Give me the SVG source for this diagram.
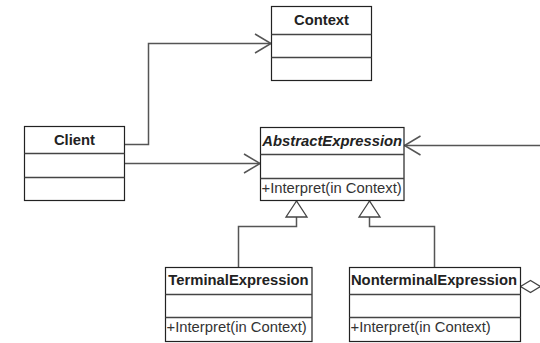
<svg xmlns="http://www.w3.org/2000/svg" width="540" height="343" viewBox="0 0 540 343">
  <style>
    .box { fill: #ffffff; stroke: #222222; stroke-width: 1.2; }
    .sep { stroke: #444444; stroke-width: 1.6; }
    .name { font-family: "Liberation Sans", Arial, sans-serif; font-size: 14.8px; font-weight: bold; fill: #222222; text-anchor: middle; }
    .abstract { font-style: italic; }
    .op { font-family: "Liberation Sans", Arial, sans-serif; font-size: 14.8px; fill: #333333; }
    .link { fill: none; stroke: #555555; stroke-width: 1.5; }
  </style>
  <defs>
    <marker id="open-arrow" markerUnits="userSpaceOnUse" markerWidth="20" markerHeight="24" viewBox="-18 -12 20 24" refX="0" refY="0" orient="auto" overflow="visible">
      <path d="M-16,-9.5 L0,0 L-16,9.5" fill="none" stroke="#555555" stroke-width="1.5"/>
    </marker>
    <marker id="inherit" markerUnits="userSpaceOnUse" markerWidth="20" markerHeight="24" viewBox="-18 -12 20 24" refX="0" refY="0" orient="auto" overflow="visible">
      <path d="M0,0 L-16,-10.5 L-16,10.5 Z" fill="#ffffff" stroke="#444444" stroke-width="1.3"/>
    </marker>
    <marker id="aggregate" markerUnits="userSpaceOnUse" markerWidth="24" markerHeight="16" viewBox="-2 -8 24 16" refX="0" refY="0" orient="auto" overflow="visible">
      <path d="M0,0 L10,-6 L20,0 L10,6 Z" fill="#ffffff" stroke="#444444" stroke-width="1.3"/>
    </marker>
  </defs>

  <g id="connectors">
    <path class="link" d="M124.5,144.5 H148.5 V43.5 H271" marker-end="url(#open-arrow)"/>
    <path class="link" d="M124.5,163.5 H260" marker-end="url(#open-arrow)"/>
    <path class="link" d="M545,145.5 H404.5" marker-end="url(#open-arrow)"/>
    <path class="link" d="M238.5,268 V226.5 H296.5 V201" marker-end="url(#inherit)"/>
    <path class="link" d="M434.5,268 V226.5 H369.5 V201" marker-end="url(#inherit)"/>
    <path class="link" d="M520.5,286.5 H560" marker-start="url(#aggregate)"/>
  </g>

  <g id="context">
    <rect class="box" x="271.5" y="6.5" width="100" height="74"/>
    <line class="sep" x1="271.5" y1="34.5" x2="371.5" y2="34.5"/>
    <line class="sep" x1="271.5" y1="57.5" x2="371.5" y2="57.5"/>
    <text class="name" x="321.5" y="25">Context</text>
  </g>

  <g id="client">
    <rect class="box" x="24.5" y="126.5" width="100" height="74"/>
    <line class="sep" x1="24.5" y1="153.5" x2="124.5" y2="153.5"/>
    <line class="sep" x1="24.5" y1="177.5" x2="124.5" y2="177.5"/>
    <text class="name" x="74.5" y="145">Client</text>
  </g>

  <g id="abstract-expression">
    <rect class="box" x="260.5" y="127.5" width="143.5" height="73"/>
    <line class="sep" x1="260.5" y1="154.5" x2="404" y2="154.5"/>
    <line class="sep" x1="260.5" y1="178.5" x2="404" y2="178.5"/>
    <text class="name abstract" x="332.2" y="146">AbstractExpression</text>
    <text class="op" x="261.5" y="193">+Interpret(in Context)</text>
  </g>

  <g id="terminal-expression">
    <rect class="box" x="165.5" y="267.5" width="146.5" height="74"/>
    <line class="sep" x1="165.5" y1="294.5" x2="312" y2="294.5"/>
    <line class="sep" x1="165.5" y1="317.5" x2="312" y2="317.5"/>
    <text class="name" x="238.5" y="285">TerminalExpression</text>
    <text class="op" x="166.5" y="332">+Interpret(in Context)</text>
  </g>

  <g id="nonterminal-expression">
    <rect class="box" x="349.5" y="267.5" width="171" height="74"/>
    <line class="sep" x1="349.5" y1="294.5" x2="520.5" y2="294.5"/>
    <line class="sep" x1="349.5" y1="317.5" x2="520.5" y2="317.5"/>
    <text class="name" x="434" y="285">NonterminalExpression</text>
    <text class="op" x="350.5" y="332">+Interpret(in Context)</text>
  </g>
</svg>
